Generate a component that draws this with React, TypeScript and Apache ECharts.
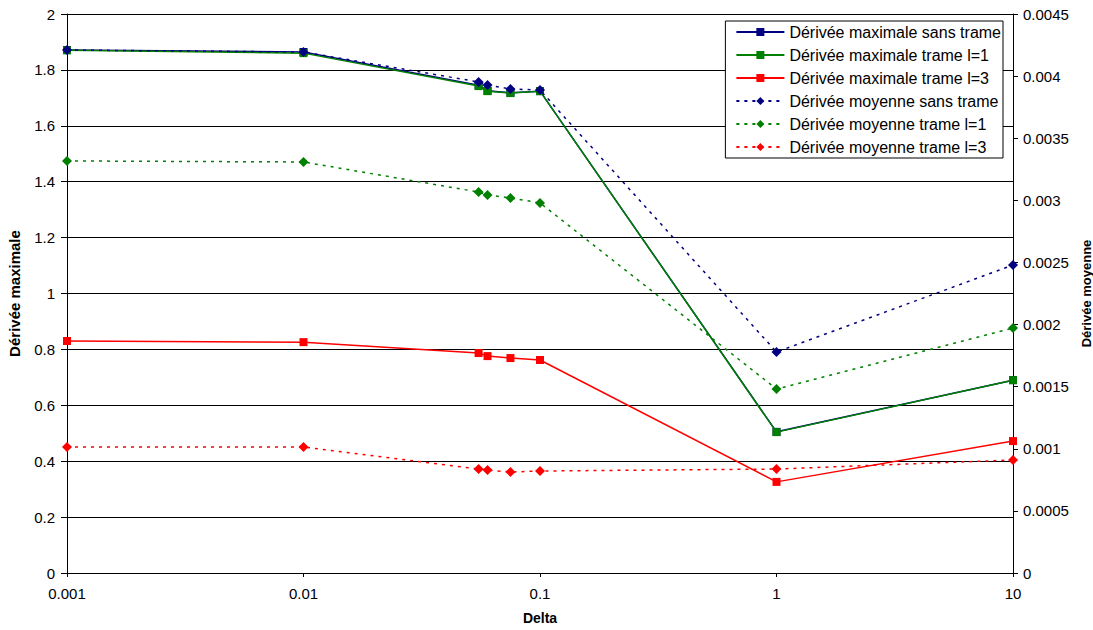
import React, { useEffect, useRef } from "react";
import * as echarts from "echarts";

const deltas = [0.001, 0.01, 0.055, 0.06, 0.075, 0.1, 1, 10];

const maxSansTrame = [1.871, 1.864, 1.745, 1.725, 1.718, 1.724, 0.505, 0.69];
const maxTrameL1 = [1.87, 1.86, 1.742, 1.724, 1.717, 1.724, 0.504, 0.69];
const maxTrameL3 = [0.83, 0.826, 0.787, 0.776, 0.769, 0.762, 0.326, 0.472];

const moySansTrame = [0.00421, 0.004194, 0.003953, 0.003928, 0.003896, 0.003888, 0.001779, 0.002479];
const moyTrameL1 = [0.003317, 0.003309, 0.003067, 0.003043, 0.003019, 0.002979, 0.001481, 0.001972];
const moyTrameL3 = [0.001014, 0.001014, 0.000837, 0.000829, 0.000813, 0.000821, 0.000837, 0.00091];

const seriesNames = [
  "Dérivée maximale sans trame",
  "Dérivée maximale trame l=1",
  "Dérivée maximale trame l=3",
  "Dérivée moyenne sans trame",
  "Dérivée moyenne trame l=1",
  "Dérivée moyenne trame l=3",
];

const colors = ["#000080", "#008000", "#FF0000"];

const FONT = "'Liberation Sans', Arial, sans-serif";

function pairs(vals: number[]) {
  return deltas.map((d, i) => [d, vals[i]]);
}

export default function App() {
  const ref = useRef<HTMLDivElement>(null);

  useEffect(() => {
    if (!ref.current) return;
    const chart = echarts.init(ref.current, undefined, { renderer: "svg" });

    const maxSeries = [maxSansTrame, maxTrameL1, maxTrameL3].map((vals, i) => ({
      name: seriesNames[i],
      type: "line",
      yAxisIndex: 0,
      data: pairs(vals),
      symbol: "rect",
      symbolSize: 8,
      color: colors[i],
      lineStyle: { color: colors[i], width: 1.5, type: "solid" },
      itemStyle: { color: colors[i] },
      z: 2 + i,
    }));
    const moySeries = [moySansTrame, moyTrameL1, moyTrameL3].map((vals, i) => ({
      name: seriesNames[3 + i],
      type: "line",
      yAxisIndex: 1,
      data: pairs(vals),
      symbol: "diamond",
      symbolSize: 10,
      color: colors[i],
      lineStyle: { color: colors[i], width: 1.5, type: [3, 5] },
      itemStyle: { color: colors[i] },
      z: 6 + i,
    }));

    chart.setOption({
      animation: false,
      backgroundColor: "#ffffff",
      textStyle: { fontFamily: FONT },
      grid: { left: 67, right: 80, top: 14, bottom: 57, containLabel: false, outerBoundsMode: "none" },
      legend: {
        orient: "vertical",
        right: 90,
        top: 21,
        padding: [3, 2, 3, 10],
        itemGap: 7,
        itemWidth: 48,
        itemHeight: 10,
        borderColor: "#000",
        borderWidth: 1,
        backgroundColor: "#fff",
        textStyle: { fontFamily: FONT, fontSize: 16, color: "#000", lineHeight: 16 },
        data: seriesNames,
      },
      xAxis: {
        type: "log",
        logBase: 10,
        min: 0.001,
        max: 10,
        name: "Delta",
        nameLocation: "middle",
        nameGap: 38,
        nameTextStyle: { fontFamily: FONT, fontSize: 14, fontWeight: "bold", color: "#000" },
        axisLine: { show: true, lineStyle: { color: "#000", width: 1 } },
        axisTick: { show: true, length: 4, lineStyle: { color: "#000" } },
        minorTick: { show: false },
        splitLine: { show: false },
        axisLabel: {
          fontFamily: FONT,
          fontSize: 15,
          color: "#000",
          margin: 13,
          formatter: (v: number) => String(Number(v.toPrecision(6))),
        },
      },
      yAxis: [
        {
          type: "value",
          min: 0,
          max: 2,
          interval: 0.2,
          position: "left",
          name: "Dérivée maximale",
          nameLocation: "middle",
          nameGap: 45,
          nameRotate: 90,
          nameTextStyle: { fontFamily: FONT, fontSize: 15, fontWeight: "bold", color: "#000" },
          axisLine: { show: true, lineStyle: { color: "#000", width: 1 } },
          axisTick: { show: true, length: 6, lineStyle: { color: "#000" } },
          splitLine: { show: true, lineStyle: { color: "#000", width: 1 } },
          axisLabel: {
            fontFamily: FONT,
            fontSize: 15,
            color: "#000",
            margin: 12,
            formatter: (v: number) => String(Number(v.toFixed(1))),
          },
        },
        {
          type: "value",
          min: 0,
          max: 0.0045,
          interval: 0.0005,
          position: "right",
          name: "Dérivée moyenne",
          nameLocation: "middle",
          nameGap: 56,
          nameRotate: 90,
          nameTextStyle: { fontFamily: FONT, fontSize: 13, fontWeight: "bold", color: "#000" },
          axisLine: { show: true, lineStyle: { color: "#000", width: 1 } },
          axisTick: { show: true, length: 5, lineStyle: { color: "#000" } },
          splitLine: { show: false },
          axisLabel: {
            fontFamily: FONT,
            fontSize: 15,
            color: "#000",
            margin: 10,
            formatter: (v: number) => String(Number(v.toFixed(4))),
          },
        },
      ],
      series: [...maxSeries, ...moySeries],
    });

    return () => chart.dispose();
  }, []);

  return (
    <div
      ref={ref}
      style={{ position: "absolute", left: 0, top: 0, width: 1093, height: 630, background: "#fff" }}
    />
  );
}
